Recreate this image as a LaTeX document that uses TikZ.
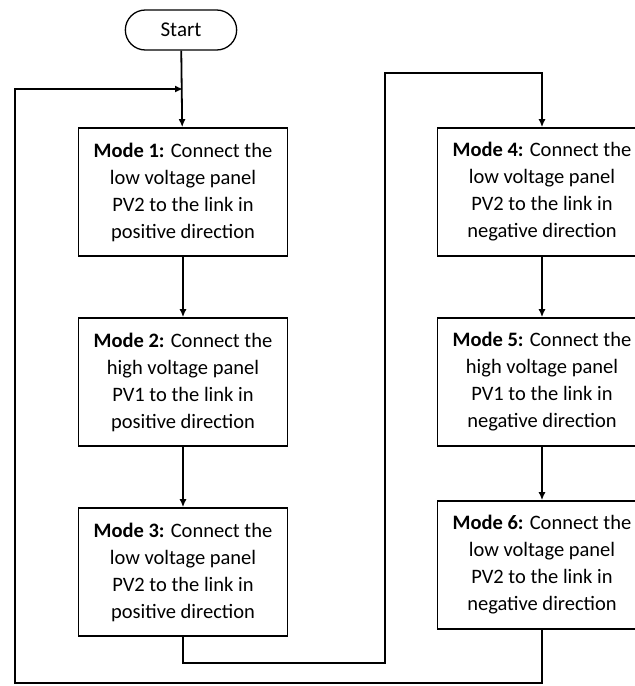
\documentclass[tikz,border=0pt]{standalone}
\usepackage{fontspec}
\setmainfont{Carlito}
\usetikzlibrary{arrows.meta,shapes.misc}

\tikzset{
  modebox/.style={draw, line width=1.6pt, minimum width=209pt, minimum height=128pt,
    align=center, inner sep=2pt, font=\fontsize{20.5}{27}\selectfont},
  startbox/.style={draw, rounded rectangle, line width=1.3pt, minimum width=118pt,
    minimum height=40pt, font=\fontsize{21}{27}\selectfont},
  flow/.style={line width=1.8pt, -{Latex[length=8pt,width=7pt]}},
}

\begin{document}
\begin{tikzpicture}[x=1pt,y=1pt]
    \useasboundingbox (0,0) rectangle (635,-686);
    \clip (0,0) rectangle (635,-686);
    \node[startbox] (start) at (181,-30) {Start};
    % positive direction
    \node[modebox] (m1) at (183,-192) {\textbf{Mode 1:} Connect the\\low voltage panel\\PV2 to the link in\\positive direction};
    \node[modebox] (m2) at (183,-382) {\textbf{Mode 2:} Connect the\\high voltage panel\\PV1 to the link in\\positive direction};
    \node[modebox] (m3) at (183,-572) {\textbf{Mode 3:} Connect the\\low voltage panel\\PV2 to the link in\\positive direction};
    % negative direction
    \node[modebox] (m4) at (542,-192) {\textbf{Mode 4:} Connect the\\low voltage panel\\PV2 to the link in\\negative direction};
    \node[modebox] (m5) at (542,-382) {\textbf{Mode 5:} Connect the\\high voltage panel\\PV1 to the link in\\negative direction};
    \node[modebox] (m6) at (542,-565) {\textbf{Mode 6:} Connect the\\low voltage panel\\PV2 to the link in\\negative direction};
    \coordinate (join) at (183,-89);
    \coordinate (back) at (15,-683);
    \coordinate (over) at (385,-73);

    \draw[flow] (start) -- (m1);
    \draw[flow] (m1) -- (m2);
    \draw[flow] (m2) -- (m3);
    \draw[flow] (m3.south) -- ++(0,-26) -| (over) -| (m4.north);
    \draw[flow] (m4) -- (m5);
    \draw[flow] (m5) -- (m6);
    \draw[flow] (m6.south) |- (back) |- (join);
  \end{tikzpicture}
\end{document}
